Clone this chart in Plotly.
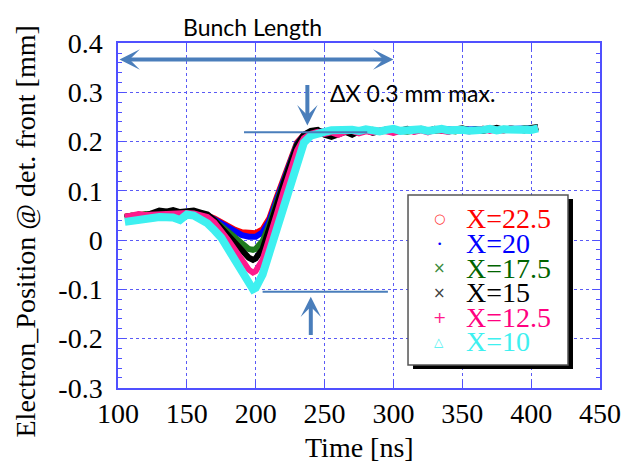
import plotly.graph_objects as go

# ---------------- data ----------------
time_ns = [105, 110, 115, 120, 125, 130, 135, 140, 145, 150, 155, 160,
           165, 170, 175, 180, 185, 190, 195, 198, 200, 205, 210, 215, 220, 225, 230, 235, 240, 245,
           250, 255, 260, 265, 270, 275, 280, 285, 290, 295, 300, 305, 310, 315, 320, 325,
           330, 335, 340, 345, 350, 355, 360, 365, 370, 375, 380, 385, 390, 395, 400, 405]

x225 = [0.048, 0.050, 0.052, 0.051, 0.053, 0.055, 0.054, 0.056, 0.055, 0.057, 0.056, 0.054,
        0.050, 0.044, 0.036, 0.028, 0.021, 0.016, 0.014, 0.013, 0.014, 0.022, 0.045, 0.085, 0.125, 0.165, 0.198, 0.214, 0.220, 0.222,
        0.220, 0.218, 0.221, 0.223, 0.219, 0.222, 0.224, 0.221, 0.220, 0.223, 0.225, 0.222, 0.221, 0.224, 0.226, 0.223,
        0.222, 0.225, 0.224, 0.222, 0.226, 0.224, 0.223, 0.225, 0.227, 0.224, 0.223, 0.226, 0.225, 0.227, 0.226, 0.228]

x200 = [0.047, 0.049, 0.051, 0.052, 0.052, 0.054, 0.055, 0.055, 0.056, 0.056, 0.055, 0.053,
        0.050, 0.042, 0.033, 0.024, 0.016, 0.010, 0.007, 0.006, 0.007, 0.016, 0.040, 0.080, 0.121, 0.162, 0.196, 0.213, 0.219, 0.222,
        0.219, 0.221, 0.220, 0.222, 0.221, 0.223, 0.222, 0.220, 0.222, 0.224, 0.223, 0.221, 0.223, 0.225, 0.224, 0.222,
        0.224, 0.223, 0.225, 0.224, 0.223, 0.225, 0.226, 0.224, 0.225, 0.226, 0.224, 0.226, 0.227, 0.225, 0.227, 0.228]

x175 = [0.046, 0.050, 0.049, 0.053, 0.052, 0.055, 0.054, 0.057, 0.055, 0.056, 0.057, 0.054,
        0.049, 0.040, 0.028, 0.015, 0.002, -0.010, -0.018, -0.020, -0.018, -0.002, 0.032, 0.074, 0.117, 0.158, 0.194, 0.212, 0.219, 0.221,
        0.218, 0.222, 0.219, 0.221, 0.223, 0.220, 0.222, 0.224, 0.221, 0.222, 0.224, 0.222, 0.220, 0.224, 0.225, 0.222,
        0.223, 0.225, 0.223, 0.221, 0.225, 0.224, 0.222, 0.226, 0.225, 0.223, 0.226, 0.225, 0.224, 0.227, 0.226, 0.229]

x150 = [0.044, 0.046, 0.052, 0.050, 0.055, 0.060, 0.058, 0.061, 0.057, 0.059, 0.060, 0.056,
        0.052, 0.040, 0.025, 0.008, -0.008, -0.024, -0.036, -0.040, -0.037, -0.018, 0.022, 0.068, 0.113, 0.156, 0.193, 0.214, 0.222, 0.224,
        0.214, 0.210, 0.216, 0.220, 0.214, 0.221, 0.224, 0.218, 0.222, 0.225, 0.219, 0.223, 0.226, 0.221, 0.224, 0.222,
        0.226, 0.223, 0.221, 0.225, 0.227, 0.223, 0.225, 0.222, 0.226, 0.228, 0.224, 0.227, 0.225, 0.223, 0.228, 0.230]

x125 = [0.047, 0.050, 0.053, 0.051, 0.052, 0.054, 0.055, 0.054, 0.056, 0.055, 0.054, 0.052,
        0.047, 0.036, 0.020, 0.000, -0.020, -0.042, -0.060, -0.066, -0.063, -0.040, 0.002, 0.050, 0.097, 0.142, 0.182, 0.207, 0.216, 0.220,
        0.216, 0.219, 0.214, 0.220, 0.222, 0.217, 0.221, 0.219, 0.223, 0.221, 0.218, 0.222, 0.224, 0.220, 0.223, 0.219,
        0.224, 0.222, 0.220, 0.225, 0.223, 0.221, 0.224, 0.226, 0.222, 0.225, 0.223, 0.227, 0.224, 0.226, 0.228, 0.227]

x100 = [0.037, 0.040, 0.042, 0.044, 0.045, 0.047, 0.048, 0.046, 0.041, 0.052, 0.050, 0.042,
        0.034, 0.020, 0.005, -0.018, -0.042, -0.068, -0.092, -0.100, -0.097, -0.070, -0.025, 0.022, 0.070, 0.117, 0.163, 0.198, 0.212, 0.218,
        0.220, 0.223, 0.224, 0.221, 0.224, 0.222, 0.225, 0.223, 0.221, 0.224, 0.226, 0.222, 0.224, 0.223, 0.225, 0.222,
        0.224, 0.226, 0.223, 0.225, 0.224, 0.222, 0.225, 0.224, 0.226, 0.223, 0.225, 0.224, 0.226, 0.225, 0.224, 0.227]

series_names = ["X=22.5", "X=20", "X=17.5", "X=15", "X=12.5", "X=10"]
series_values = [x225, x200, x175, x150, x125, x100]
line_colors = ["#ff0000", "#0000ff", "#1e7a1e", "#000000", "#ff1a8c", "#3ef0f0"]
text_colors = ["#ff0000", "#0000ff", "#006400", "#000000", "#ff0080", "#3ef0f0"]
legend_symbols = ["○", "•", "×", "×", "+", "△"]
symbol_colors = ["#ff3030", "#0000ff", "#3a8a3a", "#404040", "#ff1a8c", "#3ef0f0"]

y_tick_vals = [-0.3, -0.2, -0.1, 0.0, 0.1, 0.2, 0.3, 0.4]
y_tick_text = ["-0.3", "-0.2", "-0.1", "0", "0.1", "0.2", "0.3", "0.4"]
x_tick_vals = [100, 150, 200, 250, 300, 350, 400, 450]

# ---------------- figure ----------------
fig = go.Figure()
for name, vals, col in zip(series_names, series_values, line_colors):
    assert len(vals) == len(time_ns)
    fig.add_trace(go.Scatter(x=time_ns, y=vals, mode="lines", name=name,
                             line=dict(color=col, width=8 if name == "X=10" else 6),
                             showlegend=False))

AX = "#5050ff"
GRID = "#5a5af5"
serif = "Liberation Serif"
sans = "Lato"
arrow_col = "#4a7ebb"

# the page body keeps its default 8px margin, so the figure is 8px smaller
fig.update_layout(
    width=628, height=454,
    margin=dict(l=110, r=36, t=35, b=74),
    paper_bgcolor="white", plot_bgcolor="white",
    showlegend=False,
    font=dict(family=serif),
    xaxis=dict(range=[100, 450], tickvals=x_tick_vals, showgrid=True,
               gridcolor=GRID, griddash="dot", gridwidth=1,
               showline=True, linecolor=AX, linewidth=1.5, mirror="allticks",
               ticks="inside", ticklen=7, tickcolor=AX, zeroline=False,
               tickfont=dict(family=serif, size=28, color="black")),
    yaxis=dict(range=[-0.3005, 0.4005], tickvals=y_tick_vals, ticktext=y_tick_text,
               showgrid=True, gridcolor=GRID, griddash="dot", gridwidth=1,
               showline=True, linecolor=AX, linewidth=1.5, mirror="allticks",
               ticks="inside", ticklen=7, tickcolor=AX, zeroline=False,
               ticklabelstandoff=8,
               tickfont=dict(family=serif, size=28, color="black"),
               minor=dict(tick0=-0.3, dtick=0.02, ticks="inside", ticklen=4,
                          tickcolor=AX, showgrid=False)),
)

# axis titles
fig.add_annotation(text="Electron_Position @ det. front [mm]", xref="paper", yref="paper",
                   x=-0.192, y=0.455, textangle=-90, showarrow=False,
                   xanchor="center", yanchor="middle",
                   font=dict(family=serif, size=28, color="black"))
fig.add_annotation(text="Time [ns]", xref="paper", yref="paper",
                   x=0.5, y=-0.172, showarrow=False, xanchor="center", yanchor="middle",
                   font=dict(family=serif, size=28, color="black"))

# bunch length double arrow
fig.add_annotation(x=300, y=0.367, ax=100, ay=0.367, xref="x", yref="y", axref="x", ayref="y",
                   text="", showarrow=True, arrowside="end+start", arrowhead=3,
                   startarrowhead=3, arrowwidth=4, arrowsize=0.85, startarrowsize=0.85,
                   arrowcolor=arrow_col, standoff=0, startstandoff=0)
fig.add_annotation(text="Bunch Length", x=198, xref="x", y=1.046, yref="paper",
                   showarrow=False, xanchor="center", yanchor="middle",
                   font=dict(family=sans, size=23, color="black"))

# delta X markers
fig.add_annotation(x=237.5, y=0.233, ax=237.5, ay=0.318, xref="x", yref="y", axref="x", ayref="y",
                   text="", showarrow=True, arrowhead=3, arrowwidth=4, arrowsize=0.85,
                   arrowcolor=arrow_col, standoff=0)
fig.add_annotation(x=240, y=-0.115, ax=240, ay=-0.196, xref="x", yref="y", axref="x", ayref="y",
                   text="", showarrow=True, arrowhead=3, arrowwidth=4, arrowsize=0.85,
                   arrowcolor=arrow_col, standoff=0)
fig.add_shape(type="line", x0=191.5, x1=281, y0=0.219, y1=0.219, xref="x", yref="y",
              line=dict(color=arrow_col, width=2))
fig.add_shape(type="line", x0=205, x1=296, y0=-0.105, y1=-0.105, xref="x", yref="y",
              line=dict(color=arrow_col, width=2))
fig.add_annotation(text="ΔX 0.3 mm max.", x=252.4, xref="x", y=0.298, yref="y",
                   showarrow=False, xanchor="left", yanchor="middle",
                   font=dict(family=sans, size=23, color="black"))

# custom legend box with shadow
px = 1 / 482.0
py = 1 / 345.0
bx0, bx1, by0, by1 = 0.6017, 0.9336, 0.0667, 0.5594
fig.add_shape(type="rect", xref="paper", yref="paper", layer="above",
              x0=bx0 + 5 * px, x1=bx1 + 5 * px, y0=by0 - 4 * py, y1=by1 - 4 * py,
              fillcolor="black", line=dict(width=0))
fig.add_shape(type="rect", xref="paper", yref="paper", layer="above",
              x0=bx0, x1=bx1, y0=by0, y1=by1,
              fillcolor="white", line=dict(color="#555555", width=1.5))

entry_top = 0.4899
entry_step = 0.0713
sym_sizes = [13, 9, 15, 15, 16, 12]
for i, (name, tc, sym, sc, ss) in enumerate(zip(series_names, text_colors, legend_symbols,
                                                symbol_colors, sym_sizes)):
    yy = entry_top - i * entry_step
    fig.add_annotation(text=sym, xref="paper", yref="paper", x=0.666, y=yy,
                       showarrow=False, xanchor="center", yanchor="middle",
                       font=dict(family="DejaVu Sans", size=ss, color=sc))
    fig.add_annotation(text=name, xref="paper", yref="paper", x=0.718, y=yy,
                       showarrow=False, xanchor="left", yanchor="middle",
                       font=dict(family=serif, size=28, color=tc))

fig.write_html("out.html")
